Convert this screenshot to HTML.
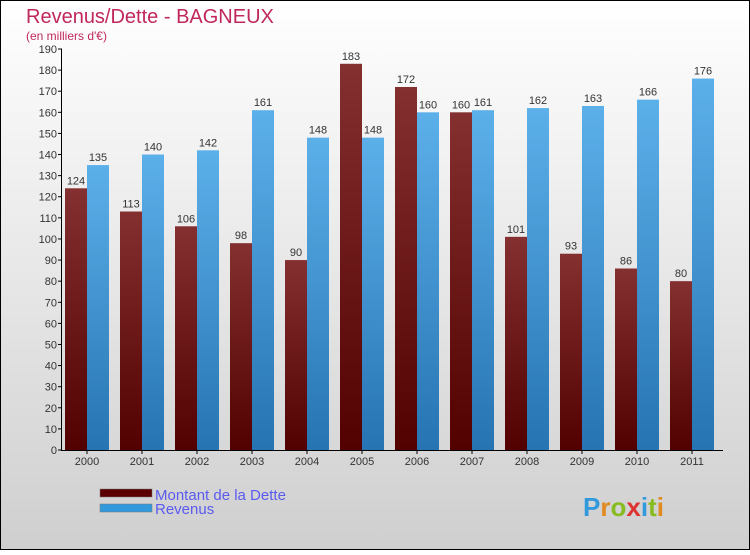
<!DOCTYPE html>
<html><head><meta charset="utf-8"><style>
html,body{margin:0;padding:0}
body{width:750px;height:550px;overflow:hidden;font-family:"Liberation Sans",sans-serif}
</style></head><body>
<svg id="chart" width="750" height="550" xmlns="http://www.w3.org/2000/svg">
<defs>
<linearGradient id="bg" x1="0" y1="0" x2="0" y2="1"><stop offset="0" stop-color="#ffffff"/><stop offset="1" stop-color="#cfcfcf"/></linearGradient>
<linearGradient id="gd" x1="0" y1="0" x2="0" y2="1"><stop offset="0" stop-color="#853030"/><stop offset="1" stop-color="#520000"/></linearGradient>
<linearGradient id="gr" x1="0" y1="0" x2="0" y2="1"><stop offset="0" stop-color="#5cb0ea"/><stop offset="1" stop-color="#2674b2"/></linearGradient>
</defs>
<rect x="0.5" y="0.5" width="749" height="549" fill="url(#bg)" stroke="#000"/>
<text x="26" y="23" font-size="20" fill="#c0285a">Revenus/Dette - BAGNEUX</text>
<text x="26" y="40" font-size="12" fill="#c0285a">(en milliers d'€)</text>
<g id="marks"></g>
<g id="axes"></g>
<rect x="100" y="489" width="52" height="8" fill="#5a0000" stroke="#777" stroke-width="0.5"/>
<text x="155" y="500" font-size="15" fill="#5a5af0">Montant de la Dette</text>
<rect x="100" y="504" width="52" height="8" fill="#3399dd" stroke="#777" stroke-width="0.5"/>
<text x="155" y="514" font-size="15" fill="#5a5af0">Revenus</text>
<text x="583" y="516" font-size="26" font-weight="bold" fill="#e08a20"><tspan fill="#3399dd">P</tspan><tspan fill="#e08a20">r</tspan><tspan fill="#88bb22">o</tspan><tspan fill="#dd3333">x</tspan><tspan fill="#3399dd">i</tspan><tspan fill="#88bb22">t</tspan><tspan fill="#e08a20">i</tspan></text>
</svg>
<script>
const years=["2000","2001","2002","2003","2004","2005","2006","2007","2008","2009","2010","2011"];
const dette=[124,113,106,98,90,183,172,160,101,93,86,80];
const revenus=[135,140,142,161,148,148,160,161,162,163,166,176];
const yTicks=[0,10,20,30,40,50,60,70,80,90,100,110,120,130,140,150,160,170,180,190];
const NS="http://www.w3.org/2000/svg";
const x0=62,gw=55,y0=450,yTop=49,yMax=190;
function y(v){return y0-(v/yMax)*(y0-yTop);}
function gx(i){return x0+i*gw;}
function mk(tag,attrs,parent){const e=document.createElementNS(NS,tag);for(const k in attrs)e.setAttribute(k,attrs[k]);parent.appendChild(e);return e;}
const marks=document.getElementById('marks'),axes=document.getElementById('axes');
years.forEach((yr,i)=>{
  const d=mk('rect',{x:gx(i)+3,y:y(dette[i]),width:22,height:y0-y(dette[i]),fill:'url(#gd)'},marks);
  
  
  const r=mk('rect',{x:gx(i)+25,y:y(revenus[i]),width:22,height:y0-y(revenus[i]),fill:'url(#gr)'},marks);
  
  
  const t1=mk('text',{x:gx(i)+14,y:y(dette[i])-4,'font-size':11,'text-anchor':'middle',fill:'#333'},marks);
  t1.textContent=dette[i];
  
  
  const t2=mk('text',{x:gx(i)+36,y:y(revenus[i])-4,'font-size':11,'text-anchor':'middle',fill:'#333'},marks);
  t2.textContent=revenus[i];
  
  
  const xl=mk('text',{x:gx(i)+25,y:465,'font-size':11,'text-anchor':'middle',fill:'#333'},axes);
  xl.textContent=yr;
  
  
  mk('line',{x1:gx(i)+25,x2:gx(i)+25,y1:y0,y2:y0+4,stroke:'#000'},axes);
});
yTicks.forEach(v=>{
  mk('line',{x1:58,x2:62,y1:y(v),y2:y(v),stroke:'#000'},axes);
  const t=mk('text',{x:57,y:y(v)+4,'font-size':11,'text-anchor':'end',fill:'#333'},axes);
  t.textContent=v;
  
  
});
const ya=mk('line',{x1:61.5,x2:61.5,y1:yTop,y2:y0,stroke:'#000'},axes);


const xa=mk('line',{x1:61,x2:723,y1:y0+0.5,y2:y0+0.5,stroke:'#000'},axes);


</script>
</body></html>
